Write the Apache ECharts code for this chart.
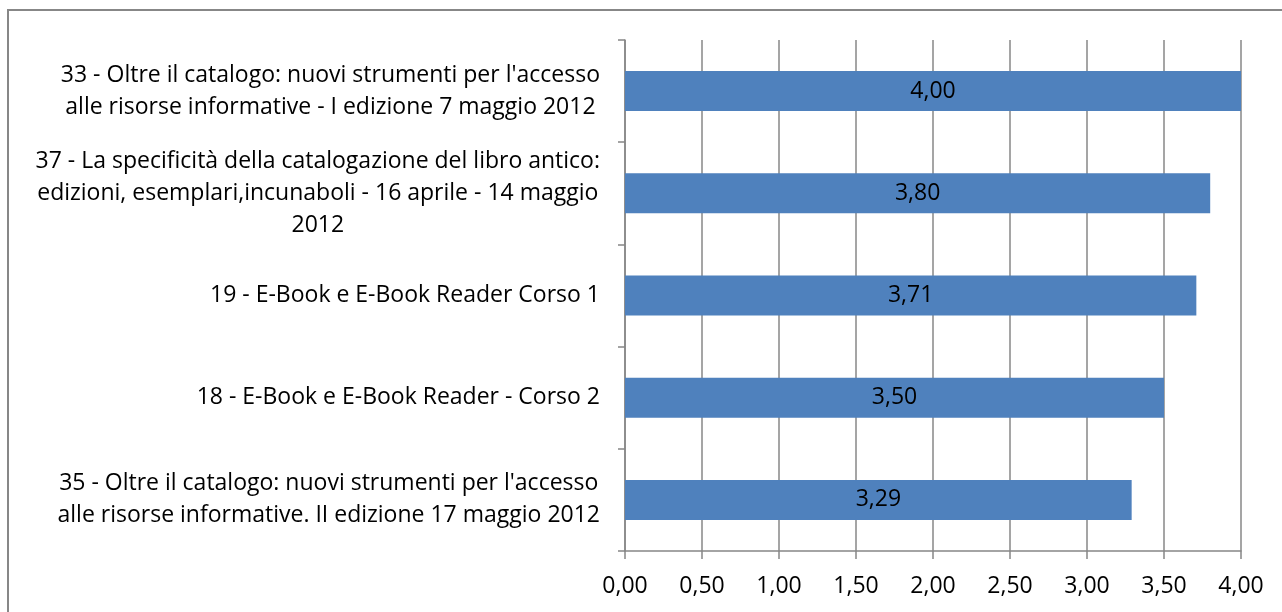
<!DOCTYPE html>
<html>
<head>
<meta charset="utf-8">
<script src="https://cdn.jsdelivr.net/npm/echarts@6/dist/echarts.min.js"></script>
<style>
body{margin:0;padding:0;background:#fff;}
#main{width:1282px;height:612px;}
</style>
</head>
<body>
<div id="main"></div>
<script>
// categories, top to bottom
var categories = [
    "33 - Oltre il catalogo: nuovi strumenti per l'accesso\nalle risorse informative - I edizione 7 maggio 2012",
    "37 - La specificità della catalogazione del libro antico:\nedizioni, esemplari,incunaboli - 16 aprile - 14 maggio\n2012",
    "19 - E-Book e E-Book Reader Corso 1",
    "18 - E-Book e E-Book Reader - Corso 2",
    "35 - Oltre il catalogo: nuovi strumenti per l'accesso\nalle risorse informative. II edizione 17 maggio 2012"
];
var values = [4.00, 3.80, 3.71, 3.50, 3.29];
var xTicks = [0, 0.5, 1, 1.5, 2, 2.5, 3, 3.5, 4];

var font = 'Open Sans';
var fsize = 23;
function fmt(v){
    return v.toFixed(2).replace('.', ',');
}

var myChart = echarts.init(document.getElementById('main'));
var option = {
    animation: false,
    graphic: [{
        type: 'rect',
        shape: {x: 8, y: 10, width: 1400, height: 800},
        style: {fill: 'none', stroke: '#878787', lineWidth: 2},
        silent: true
    }],
    grid: {
        left: 625,
        right: 41,
        top: 40,
        bottom: 61,
        containLabel: false
    },
    xAxis: {
        type: 'value',
        min: xTicks[0],
        max: xTicks[xTicks.length - 1],
        interval: xTicks[1] - xTicks[0],
        axisLine: {show: true, lineStyle: {color: '#878787', width: 1.5}},
        axisTick: {show: true, length: 8, lineStyle: {color: '#878787', width: 1.5}},
        splitLine: {show: true, lineStyle: {color: '#878787', width: 1.5}},
        axisLabel: {
            margin: 24,
            color: '#000',
            fontFamily: font,
            fontSize: fsize,
            formatter: function(v){ return fmt(v); }
        }
    },
    yAxis: {
        type: 'category',
        inverse: true,
        data: categories,
        axisLine: {show: true, lineStyle: {color: '#878787', width: 1.5}},
        axisTick: {show: true, length: 7, lineStyle: {color: '#878787', width: 1.5}},
        axisLabel: {
            margin: 25,
            color: '#000',
            align: 'right',
            fontFamily: font,
            fontSize: fsize,
            lineHeight: 32,
            formatter: function(v){
                return v.split('\n').map(function(s){ return '{c|' + s + '}'; }).join('\n');
            },
            rich: {
                c: {align: 'center', fontFamily: font, fontSize: fsize, lineHeight: 32, color: '#000'}
            }
        }
    },
    series: [{
        type: 'bar',
        data: values,
        barWidth: 40,
        itemStyle: {color: '#4f81bd'},
        label: {
            show: true,
            position: 'inside',
            color: '#000',
            fontFamily: font,
            fontSize: fsize,
            formatter: function(p){ return fmt(p.value); }
        }
    }]
};
myChart.setOption(option);
</script>
</body>
</html>
